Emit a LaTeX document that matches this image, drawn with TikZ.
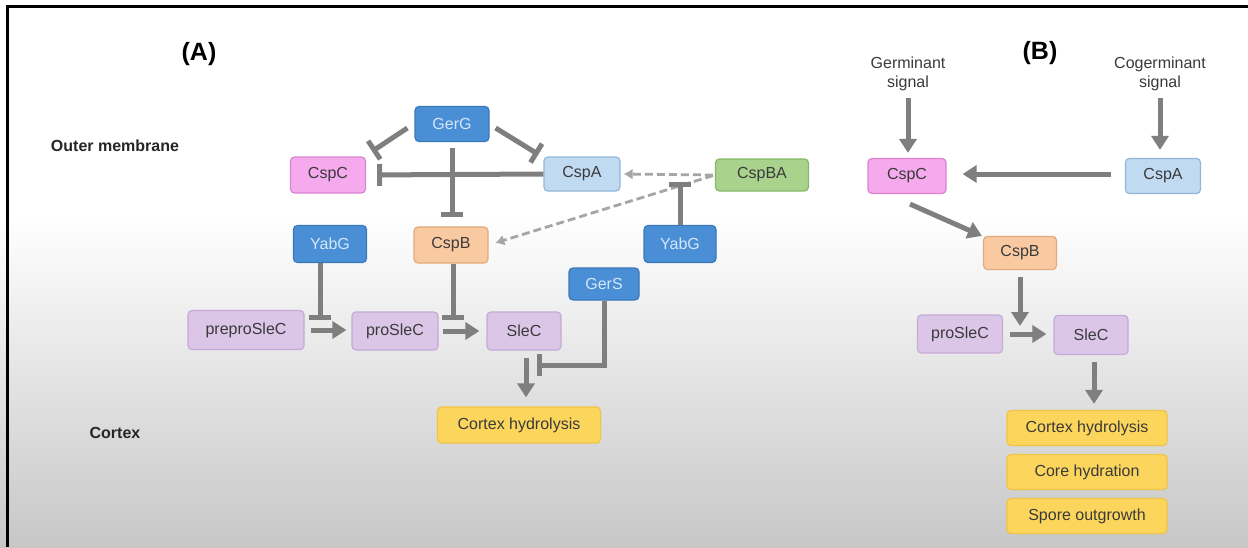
\documentclass[tikz,border=0pt]{standalone}
\usepackage{fontspec}
\setmainfont{Liberation Sans}
\usetikzlibrary{arrows.meta, calc}

\definecolor{linegray}{HTML}{7F7F7F}
\definecolor{dashgray}{HTML}{A6A6A6}
\definecolor{txtdark}{HTML}{3A3A3A}
\definecolor{gerfill}{HTML}{4A8FD6}
\definecolor{gerdraw}{HTML}{3A78BA}
\definecolor{gertext}{HTML}{D4E7F8}
\definecolor{cspcfill}{HTML}{F6AAEE}
\definecolor{cspcdraw}{HTML}{D985D0}
\definecolor{cspafill}{HTML}{C0DAF2}
\definecolor{cspadraw}{HTML}{93B7DA}
\definecolor{cspbfill}{HTML}{F9C9A2}
\definecolor{cspbdraw}{HTML}{E2AA7C}
\definecolor{cspbafill}{HTML}{A9D38C}
\definecolor{cspbadraw}{HTML}{86B86A}
\definecolor{slecfill}{HTML}{DCC6E8}
\definecolor{slecdraw}{HTML}{C5AAD7}
\definecolor{resfill}{HTML}{FCD65C}
\definecolor{resdraw}{HTML}{EFC445}

\begin{document}
\begin{tikzpicture}
	[%
	x=1pt, y=-1pt,
	font=\fontsize{16}{19}\selectfont,
	box/.style    ={rectangle, rounded corners=4pt, line width=1.2pt, minimum height=35pt, inner sep=0pt, text=txtdark},%
	ger/.style    ={box, draw=gerdraw,   fill=gerfill,   text=gertext},%
	cspc/.style   ={box, draw=cspcdraw,  fill=cspcfill},%
	cspa/.style   ={box, draw=cspadraw,  fill=cspafill},%
	cspb/.style   ={box, draw=cspbdraw,  fill=cspbfill},%
	cspba/.style  ={box, draw=cspbadraw, fill=cspbafill},%
	slec/.style   ={box, draw=slecdraw,  fill=slecfill},%
	result/.style ={box, draw=resdraw,   fill=resfill, minimum width=160pt},%
	lbl/.style    ={font=\bfseries\fontsize{16}{19}\selectfont, text=black!85},%
	act/.style    ={draw=linegray, line width=5pt, -{Triangle[length=14pt,width=17pt]}},%
	inh/.style    ={draw=linegray, line width=5pt, -{Bar[width=22pt]}},%
	dsh/.style    ={draw=dashgray, line width=2.8pt, dash pattern=on 8pt off 4pt, -{Latex[length=9pt,width=11pt]}},%
	]

	\newcommand{\lres}{1087}

	% background and frame
	\useasboundingbox (0,0) rectangle (1248,547);
	\fill [white] (0,0) rectangle (1248,547);
	\shade [top color=white, bottom color=black!22] (0,215) rectangle (1248,547);
	\draw [line width=3pt] (7.5,547) -- (7.5,6.5) -- (1248,6.5);

	% labels
	\node (labA) at (199,54) [font=\bfseries\fontsize{25}{28}\selectfont] {(A)};
	\node (labB) at (1040,53) [font=\bfseries\fontsize{25}{28}\selectfont] {(B)};
	\node (memb) at (115,146) [lbl] {Outer membrane};
	\node (cortex) at (115,433) [lbl] {Cortex};

	% nodes (A)
	\node (gerG)  at (452,124) [ger,  minimum width=74pt] {GerG};
	\node (cspCa) at (328,175) [cspc, minimum width=75pt, minimum height=36pt] {CspC};
	\node (cspAa) at (582,174) [cspa, minimum width=76pt, minimum height=34pt] {CspA};
	\node (cspBA) at (762,175) [cspba, minimum width=93pt, minimum height=32pt] {CspBA};
	\node (yabGa) at (330,244) [ger,  minimum width=73pt, minimum height=37pt] {YabG};
	\node (cspBa) at (451,245) [cspb, minimum width=74pt, minimum height=36pt] {CspB};
	\node (yabGb) at (680,244) [ger,  minimum width=72pt, minimum height=37pt] {YabG};
	\node (gerS)  at (604,284) [ger,  minimum width=70pt, minimum height=32pt] {GerS};
	\node (prepro)   at (246,330) [slec, minimum width=116pt, minimum height=39pt] {preproSleC};
	\node (proSleCa) at (395,331) [slec, minimum width=86pt, minimum height=38pt] {proSleC};
	\node (sleCa)    at (524,331) [slec, minimum width=74pt, minimum height=38pt] {SleC};
	\node (hydroA)   at (519,425) [result, minimum width=163pt, minimum height=36pt] {Cortex hydrolysis};

	\coordinate (cutA) at (320,320);
	\coordinate (cutB) at (453,320);
	\coordinate (cutC) at (537,365);
	\coordinate (cutD) at (680,182);
	\coordinate (outA) at (526,350);

	% nodes (B)
	\node (germ)   at (908,74)  [align=center, text=txtdark] {Germinant\\signal};
	\node (cogerm) at (1160,74) [align=center, text=txtdark] {Cogerminant\\signal};
	\node (cspCb) at (907,176)  [cspc, minimum width=78pt] {CspC};
	\node (cspAb) at (1163,176) [cspa, minimum width=75pt] {CspA};
	\node (cspBb) at (1020,253) [cspb, minimum width=73pt, minimum height=33pt] {CspB};
	\node (proSleCb) at (960,334)  [slec, minimum width=85pt, minimum height=38pt] {proSleC};
	\node (sleCb)    at (1091,335) [slec, minimum width=74pt, minimum height=39pt] {SleC};
	\foreach \i/\t in {0/Cortex hydrolysis,1/Core hydration,2/Spore outgrowth}%
		\node (res\i) at (\lres,428+44*\i) [result] {\t};

	\coordinate (cutE) at (1020,326);
	\coordinate (outB) at (1094,354.5);

	% interconnections (A)
	\draw [inh] ($(gerG.west)+(-7,4)$) -- ($(cspCa.north east)+(6,-5)$);
	\draw [inh] ($(gerG.east)+(6,4)$) -- ($(cspAa.north west)+(-5,-2)$);
	\draw [inh, shorten >=11pt] (cspAa.west) -- (cspCa.east);
	\draw [inh, shorten <=6pt, shorten >=9pt] (gerG.south) -- (gerG.south |- cspBa.north);
	\draw [dsh, shorten <=2pt, shorten >=3pt] (cspBA.west) -- (cspAa.east);
	\draw [dsh, shorten <=2pt, shorten >=7pt] (cspBA.west) -- (cspBa.east);
	\draw [inh] (yabGb.north) -- (cutD);

	\draw [act, shorten <=6pt, shorten >=5pt] (prepro.east) -- (prepro.east -| proSleCa.west);
	\draw [act, shorten <=4pt, shorten >=7pt] (proSleCa.east) -- (proSleCa.east -| sleCa.west);
	\draw [inh] (cutA |- yabGa.south) -- (cutA);
	\draw [inh] (cutB |- cspBa.south) -- (cutB);
	\draw [act, shorten <=8pt, shorten >=9pt] (outA) -- (outA |- hydroA.north);
	\draw [inh] (gerS.south) |- (cutC);

	% interconnections (B)
	\draw [act, shorten <=4pt, shorten >=5pt] (germ.south) -- (germ.south |- cspCb.north);
	\draw [act, shorten <=4pt, shorten >=8pt] (cogerm.south) -- (cogerm.south |- cspAb.north);
	\draw [act, shorten <=14pt, shorten >=16pt] ($(cspAb.west)+(0,-2)$) -- ($(cspCb.east)+(0,-2)$);
	\draw [act] ($(cspCb.south)+(3,10)$) -- ($(cspBb.north west)+(-1,0)$);
	\draw [act, shorten <=7pt] (cspBb.south) -- (cutE);
	\draw [act, shorten <=7pt, shorten >=7pt] (proSleCb.east) -- (proSleCb.east -| sleCb.west);
	\draw [act, shorten <=7pt, shorten >=6pt] (outB) -- (outB |- res0.north);

\end{tikzpicture}
\end{document}
